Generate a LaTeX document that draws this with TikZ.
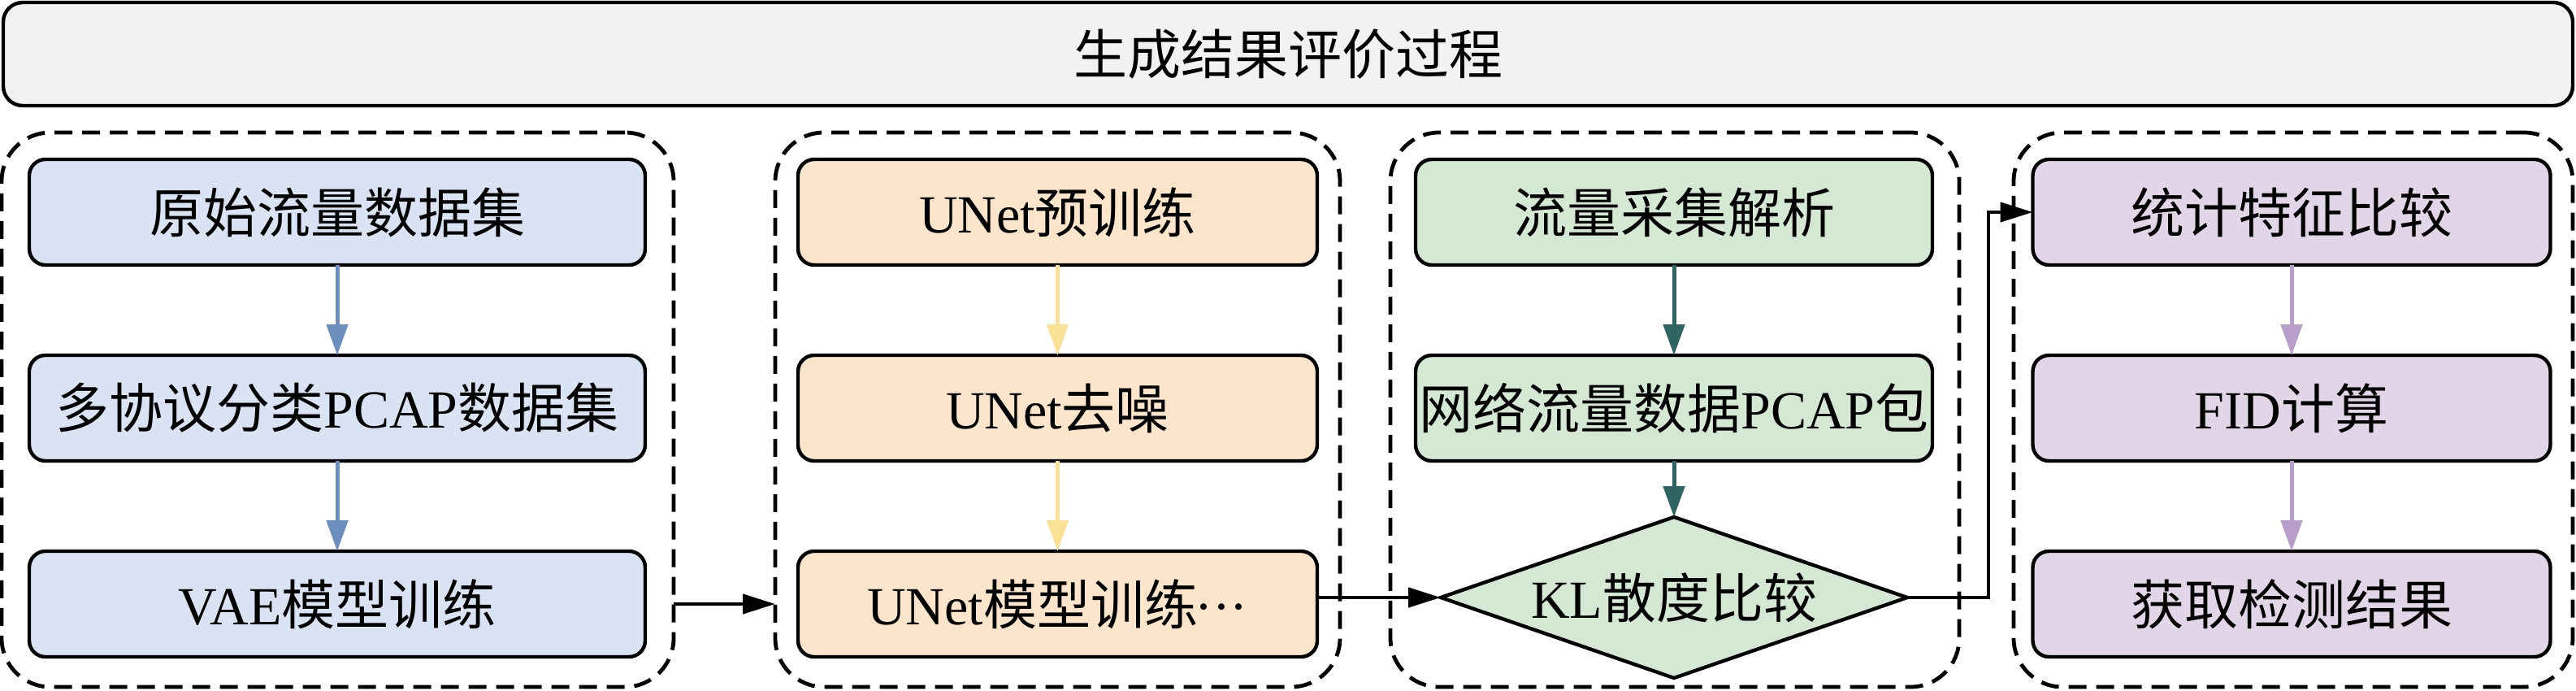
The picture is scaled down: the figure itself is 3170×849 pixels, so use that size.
\documentclass[tikz,border=0pt]{standalone}
\usepackage{fontspec}
\setmainfont{Liberation Serif}
\newfontfamily\cjk{Noto Sans CJK SC}
\usepackage{xcolor}
\usepackage{tikz}
\usetikzlibrary{arrows.meta,shapes.geometric}
\newcommand{\zh}[1]{{\cjk #1}}

\begin{document}
\begin{tikzpicture}[x=0.25pt,y=0.25pt,
  every node/.style={font=\fontsize{16.5}{18}\selectfont,text=black,inner sep=0pt,outer sep=0pt},
  stepbox/.style={draw=black,line width=1.1pt,rounded corners=5pt,minimum height=32.5pt},
  groupbox/.style={draw=black,line width=1.2pt,dash pattern=on 5.5pt off 3pt,rounded corners=15pt,minimum height=170.5pt},
  flow/.style={line width=1.25pt,-{Triangle[length=9.5pt,width=6.5pt]}},
  link/.style={draw=black,line width=1.1pt,-{Triangle[length=10pt,width=6pt]}}]
\definecolor{titleFill}{RGB}{242,242,244}
\definecolor{blueFill}{RGB}{218,227,243}
\definecolor{blueLine}{RGB}{108,142,191}
\definecolor{orangeFill}{RGB}{252,229,203}
\definecolor{orangeLine}{RGB}{249,226,150}
\definecolor{greenFill}{RGB}{213,232,212}
\definecolor{greenLine}{RGB}{46,100,100}
\definecolor{purpleFill}{RGB}{225,213,231}
\definecolor{purpleLine}{RGB}{185,157,203}

\path[use as bounding box] (0,0) rectangle (3170,849);

\node[stepbox,fill=titleFill,rounded corners=6pt,minimum width=790.5pt,minimum height=31.75pt] (title) at (1585,782.5) {\zh{生成结果评价过程}};

\node[groupbox,minimum width=206.75pt] (grpA) at (415.5,345) {};
\node[groupbox,minimum width=173.75pt] (grpB) at (1301.5,345) {};
\node[groupbox,minimum width=175pt] (grpC) at (2061,345) {};
\node[groupbox,minimum width=172pt] (grpD) at (2822,345) {};

\node[stepbox,fill=blueFill,minimum width=189.5pt] (raw) at (415,588) {\zh{原始流量数据集}};
\node[stepbox,fill=blueFill,minimum width=189.5pt] (pcap) at (415,347) {\zh{多协议分类}PCAP\zh{数据集}};
\node[stepbox,fill=blueFill,minimum width=189.5pt] (vae) at (415,106) {VAE\zh{模型训练}};

\node[stepbox,fill=orangeFill,minimum width=159.75pt] (pre) at (1301.5,588) {UNet\zh{预训练}};
\node[stepbox,fill=orangeFill,minimum width=159.75pt] (den) at (1301.5,347) {UNet\zh{去噪}};
\node[stepbox,fill=orangeFill,minimum width=159.75pt] (unet) at (1301.5,106) {UNet\zh{模型训练}\kern-1pt···};

\node[stepbox,fill=greenFill,minimum width=159pt] (cap) at (2060,588) {\zh{流量采集解析}};
\node[stepbox,fill=greenFill,minimum width=159pt] (pkt) at (2060,347) {\zh{网络流量数据}PCAP\zh{包}};
\node[diamond,draw=black,line width=1.1pt,fill=greenFill,aspect=2.9,minimum width=143.5pt,minimum height=49.5pt] (kl) at (2060,114) {KL\zh{散度比较}};

\node[stepbox,fill=purpleFill,minimum width=159.25pt] (stat) at (2820,588) {\zh{统计特征比较}};
\node[stepbox,fill=purpleFill,minimum width=159.25pt] (fid) at (2820,347) {FID\zh{计算}};
\node[stepbox,fill=purpleFill,minimum width=159.25pt] (res) at (2820,106) {\zh{获取检测结果}};

\draw[flow,draw=blueLine,fill=blueLine] (raw) -- (pcap);
\draw[flow,draw=blueLine,fill=blueLine] (pcap) -- (vae);

\draw[flow,draw=orangeLine,fill=orangeLine] (pre) -- (den);
\draw[flow,draw=orangeLine,fill=orangeLine] (den) -- (unet);

\draw[flow,draw=greenLine,fill=greenLine] (cap) -- (pkt);
\draw[flow,draw=greenLine,fill=greenLine] (pkt) -- (kl);

\draw[flow,draw=purpleLine,fill=purpleLine] (stat) -- (fid);
\draw[flow,draw=purpleLine,fill=purpleLine] (fid) -- (res);

\draw[link] (grpA.east |- vae) -- (grpB.west |- vae);
\draw[link] (unet.east |- kl.west) -- (kl.west);
\coordinate (bend) at (2447,114);
\draw[link] (kl.east) -- (bend) |- (stat.west);
\end{tikzpicture}
\end{document}
